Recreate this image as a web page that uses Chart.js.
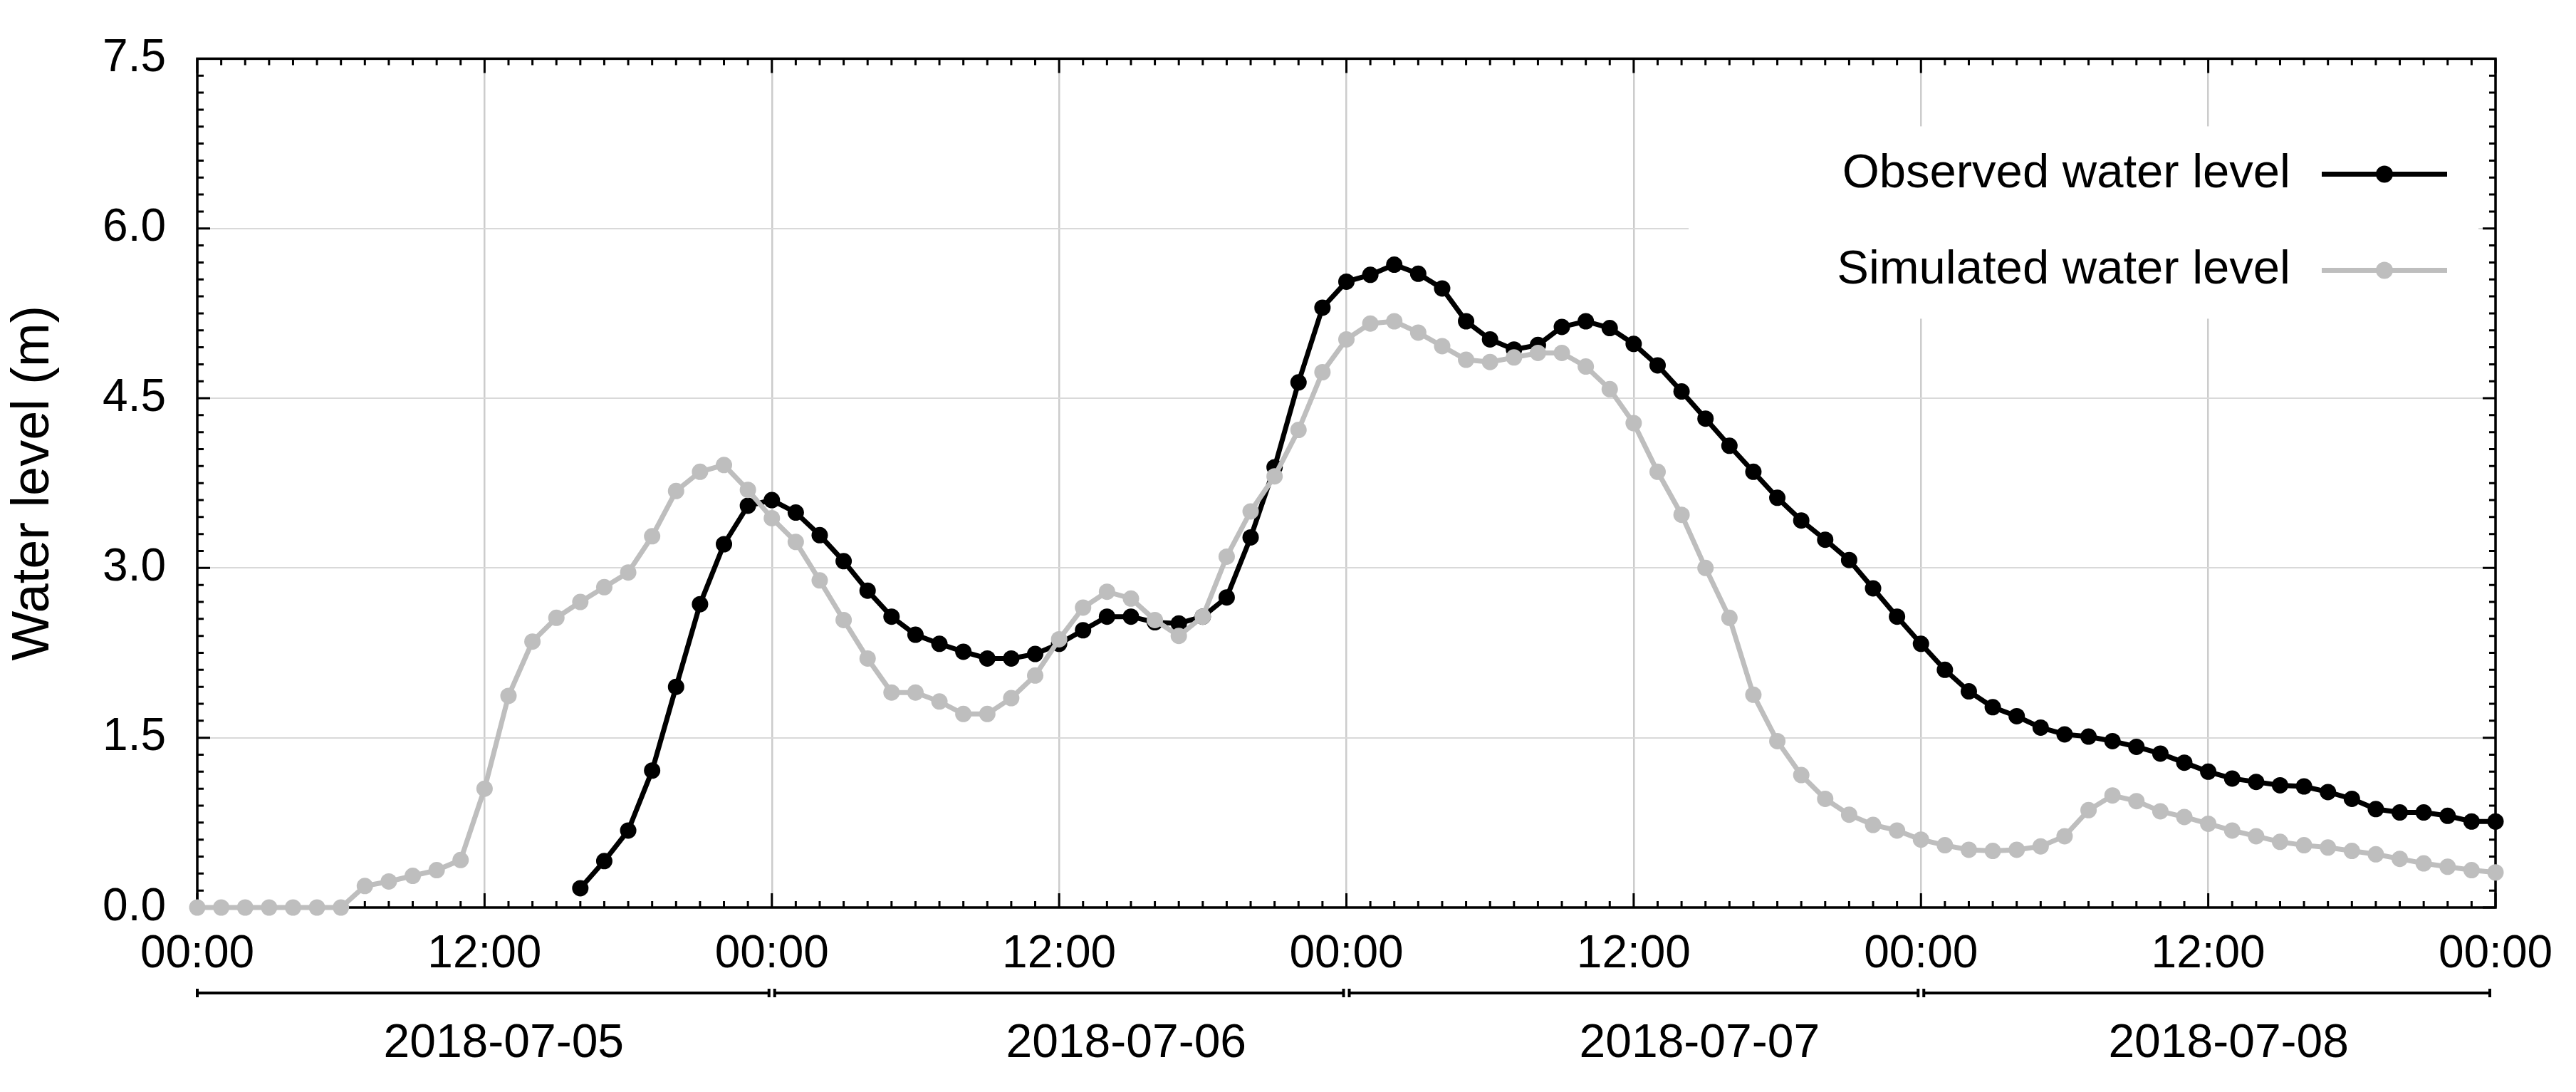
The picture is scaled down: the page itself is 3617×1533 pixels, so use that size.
<!DOCTYPE html>
<html>
<head>
<meta charset="utf-8">
<title>Water level</title>
<script src="https://cdn.jsdelivr.net/npm/chart.js@4.4.1/dist/chart.umd.min.js"></script>
<style>
  html, body { margin: 0; padding: 0; background: #fff; }
</style>
</head>
<body>
<canvas id="levelChart" width="3617" height="1533"></canvas>
<script>
// ====== DATA (hourly, from 2018-07-05 00:00) ======

const dayLabels = ['2018-07-05', '2018-07-06', '2018-07-07', '2018-07-08'];
const dayLabelHours = [12.8, 38.8, 62.75, 84.85];
const timeTicks = [0, 12, 24, 36, 48, 60, 72, 84, 96];
const yTicks = [0, 1.5, 3.0, 4.5, 6.0, 7.5];

// observed starts at hour 16
const observed = [
  null, null, null, null, null, null, null, null,
  null, null, null, null, null, null, null, null,
  0.17, 0.41, 0.68, 1.21, 1.95, 2.68, 3.21, 3.55,
  3.60, 3.49, 3.29, 3.06, 2.80, 2.57, 2.41, 2.33,
  2.26, 2.20, 2.20, 2.24, 2.33, 2.45, 2.57, 2.57,
  2.52, 2.51, 2.57, 2.74, 3.27, 3.89, 4.64, 5.30,
  5.53, 5.59, 5.68, 5.60, 5.47, 5.18, 5.02, 4.93,
  4.97, 5.13, 5.18, 5.12, 4.98, 4.79, 4.56, 4.32,
  4.08, 3.85, 3.62, 3.42, 3.25, 3.07, 2.82, 2.57,
  2.33, 2.10, 1.91, 1.77, 1.69, 1.59, 1.53, 1.51,
  1.47, 1.42, 1.36, 1.28, 1.20, 1.14, 1.11, 1.08,
  1.07, 1.02, 0.96, 0.87, 0.84, 0.84, 0.81, 0.76,
  0.76
];

const simulated = [
  0, 0, 0, 0, 0, 0, 0, 0.19,
  0.23, 0.28, 0.33, 0.42, 1.05, 1.87, 2.35, 2.56,
  2.70, 2.83, 2.96, 3.28, 3.68, 3.85, 3.91, 3.69,
  3.44, 3.23, 2.89, 2.54, 2.20, 1.90, 1.90, 1.82,
  1.71, 1.71, 1.85, 2.05, 2.37, 2.65, 2.79, 2.73,
  2.54, 2.40, 2.57, 3.10, 3.50, 3.81, 4.22, 4.73,
  5.02, 5.16, 5.18, 5.08, 4.96, 4.84, 4.82, 4.86,
  4.90, 4.90, 4.78, 4.58, 4.28, 3.85, 3.47, 3.00,
  2.56, 1.88, 1.47, 1.17, 0.96, 0.82, 0.73, 0.68,
  0.60, 0.55, 0.51, 0.50, 0.51, 0.54, 0.63, 0.86,
  0.99, 0.94, 0.85, 0.80, 0.74, 0.68, 0.63, 0.58,
  0.55, 0.53, 0.50, 0.47, 0.43, 0.39, 0.36, 0.33,
  0.31
];

const toPoints = arr => arr.map((v, i) => ({ x: i, y: v }));
const hhmm = h => String(h % 24).padStart(2, '0') + ':00';

// ====== PLUGINS ======

// frame, inward hour / 0.15 m ticks, day brackets under the time axis
const frameTicks = {
  id: 'frameTicks',
  beforeDatasetsDraw(chart) {
    const { ctx, chartArea: a, scales: { x, y, x2 } } = chart;
    ctx.save();
    ctx.strokeStyle = '#000';
    ctx.lineWidth = 3;
    ctx.beginPath();
    for (let h = 0; h <= 96; h++) {
      const px = x.getPixelForValue(h);
      const len = h % 12 === 0 ? 20 : 9;
      ctx.moveTo(px, a.bottom); ctx.lineTo(px, a.bottom - len);
      ctx.moveTo(px, a.top); ctx.lineTo(px, a.top + len);
    }
    for (let i = 0; i <= 50; i++) {
      const py = y.getPixelForValue(i * 0.15);
      const len = i % 10 === 0 ? 18 : 9;
      ctx.moveTo(a.left, py); ctx.lineTo(a.left + len, py);
      ctx.moveTo(a.right, py); ctx.lineTo(a.right - len, py);
    }
    ctx.stroke();
    ctx.lineWidth = 3.5;
    ctx.strokeRect(a.left, a.top, a.width, a.height);

    // day brackets
    const by = x2.top + 20;
    ctx.lineWidth = 4;
    ctx.beginPath();
    dayLabels.forEach((d, i) => {
      const s = x.getPixelForValue(i * 24) + (i === 0 ? 0 : 4);
      const e = x.getPixelForValue((i + 1) * 24) - (i === dayLabels.length - 1 ? 8 : 4);
      ctx.moveTo(s, by); ctx.lineTo(e, by);
      ctx.moveTo(s, by - 6); ctx.lineTo(s, by + 6);
      ctx.moveTo(e, by - 6); ctx.lineTo(e, by + 6);
    });
    ctx.lineWidth = 4;
    ctx.stroke();
    ctx.restore();
  }
};

// legend: text on the left, line sample with a dot on the right
const lineLegend = {
  id: 'lineLegend',
  afterDatasetsDraw(chart) {
    const { ctx, chartArea: a } = chart;
    ctx.save();
    ctx.fillStyle = '#fff';
    ctx.fillRect(a.right - 1133, a.top + 95, 1109, 270);
    chart.data.datasets.forEach((ds, i) => {
      const ry = a.top + 162 + i * 135;
      ctx.font = '67px "Liberation Sans", Arial, sans-serif';
      ctx.fillStyle = '#000';
      ctx.textAlign = 'right';
      ctx.textBaseline = 'middle';
      ctx.fillText(ds.label, a.right - 288, ry);
      ctx.strokeStyle = ds.borderColor;
      ctx.lineWidth = 7;
      ctx.beginPath();
      ctx.moveTo(a.right - 244, ry);
      ctx.lineTo(a.right - 68, ry);
      ctx.stroke();
      ctx.fillStyle = ds.pointBackgroundColor;
      ctx.beginPath();
      ctx.arc(a.right - 156, ry, 12, 0, Math.PI * 2);
      ctx.fill();
    });
    ctx.restore();
  }
};

// ====== CHART ======

Chart.defaults.font.family = '"Liberation Sans", Arial, sans-serif';
Chart.defaults.color = '#000';

new Chart(document.getElementById('levelChart'), {
  type: 'line',
  data: {
    datasets: [
      {
        label: 'Observed water level',
        data: toPoints(observed),
        borderColor: '#000000',
        pointBackgroundColor: '#000000',
        borderWidth: 7,
        pointRadius: 11.5,
        pointBorderWidth: 0,
        tension: 0,
        clip: false,
        order: 1
      },
      {
        label: 'Simulated water level',
        data: toPoints(simulated),
        borderColor: '#bebebe',
        pointBackgroundColor: '#bebebe',
        borderWidth: 7,
        pointRadius: 11.5,
        pointBorderWidth: 0,
        tension: 0,
        clip: false,
        order: 0
      }
    ]
  },
  options: {
    responsive: false,
    animation: false,
    events: [],
    layout: { padding: { top: 82, right: 113, left: 0, bottom: 0 } },
    plugins: { legend: { display: false }, tooltip: { enabled: false } },
    scales: {
      x: {
        type: 'linear', min: 0, max: 96,
        afterBuildTicks: s => { s.ticks = timeTicks.map(v => ({ value: v })); },
        afterFit: s => { s.height = 100; },
        grid: { color: '#cccccc', lineWidth: 2.5, drawTicks: false },
        border: { display: false },
        ticks: {
          autoSkip: false, maxRotation: 0, padding: 28,
          font: { size: 64 },
          callback: v => hhmm(v)
        }
      },
      x2: {
        type: 'linear', min: 0, max: 96, position: 'bottom', weight: 1,
        afterBuildTicks: s => { s.ticks = dayLabelHours.map(v => ({ value: v })); },
        afterFit: s => { s.height = 159; },
        grid: { display: false, drawTicks: false },
        border: { display: false },
        ticks: {
          autoSkip: false, maxRotation: 0, padding: 52,
          font: { size: 66 },
          callback: (v, i) => dayLabels[i]
        }
      },
      y: {
        min: 0, max: 7.5,
        afterBuildTicks: s => { s.ticks = yTicks.map(v => ({ value: v })); },
        afterFit: s => { s.width = 277; },
        grid: { color: '#d9d9d9', lineWidth: 2, drawTicks: false },
        border: { display: false },
        ticks: {
          padding: 44,
          font: { size: 64 },
          callback: v => v.toFixed(1)
        },
        title: {
          display: true,
          text: 'Water level (m)',
          font: { size: 74 },
          padding: { top: 3, bottom: 0 }
        }
      }
    }
  },
  plugins: [frameTicks, lineLegend]
});
</script>
</body>
</html>
